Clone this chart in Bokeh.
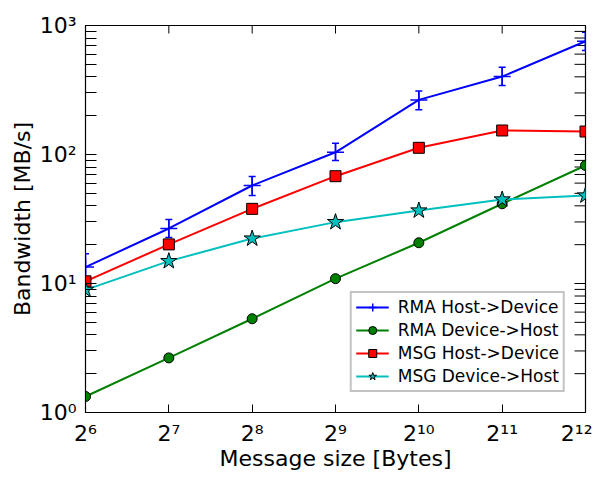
import math
from bokeh.plotting import figure
from bokeh.models import (FixedTicker, Legend, LegendItem, ColumnDataSource,
                          Whisker, TeeHead, Range1d)
from bokeh.embed import file_html
from bokeh.resources import INLINE

# ---- data ----
sizes = [64, 128, 256, 512, 1024, 2048, 4096]
rma_h2d = [13.4, 26.7, 57.5, 104, 265, 402, 755]
rma_h2d_lo = [11.2, 22.7, 48.1, 89.8, 222, 343, 640]
rma_h2d_hi = [17.0, 31.3, 67.5, 122, 310, 475, 887]
rma_d2h = [1.33, 2.65, 5.33, 10.9, 20.7, 41.5, 82.2]
msg_h2d = [10.4, 20.1, 37.9, 67.9, 112.7, 153.5, 150.7]
msg_d2h = [8.93, 14.9, 22.3, 29.9, 36.8, 44.8, 48.1]
x_tick_labels = ["2\u2076", "2\u2077", "2\u2078", "2\u2079", "2\u00b9\u2070", "2\u00b9\u00b9", "2\u00b9\u00b2"]
y_ticks = [1, 10, 100, 1000]
y_minor = [m * d for d in (1, 10, 100) for m in range(2, 10)]
y_tick_labels = ["10\u2070", "10\u00b9", "10\u00b2", "10\u00b3"]
series_names = ["RMA Host->Device", "RMA Device->Host", "MSG Host->Device", "MSG Device->Host"]

FONT = "DejaVu Sans"
X0, X1 = sizes[0], sizes[-1]
Y0, Y1 = y_ticks[0], y_ticks[-1]

p = figure(width=592, height=477, x_axis_type="log", y_axis_type="log",
           x_range=Range1d(X0, X1), y_range=Range1d(Y0, Y1),
           output_backend="svg", toolbar_location=None,
           min_border_left=85, min_border_right=7, min_border_top=25, min_border_bottom=65)
p.xgrid.visible = False
p.ygrid.visible = False
p.outline_line_color = "black"
p.outline_line_width = 1.2
p.background_fill_color = "white"
p.border_fill_color = "white"

src = ColumnDataSource(dict(x=sizes, a=rma_h2d, lo=rma_h2d_lo, hi=rma_h2d_hi,
                            b=rma_d2h, c=msg_h2d, d=msg_d2h))

# mirrored tick marks on top and right edges (clipped to the frame)
all_y = sorted(y_ticks + y_minor)
p.scatter(x=[X1] * len(all_y), y=all_y, marker="dash", size=22, line_color="black", line_width=1)
p.scatter(x=sizes, y=[Y1] * len(sizes), marker="dash", angle=math.pi / 2, size=16,
          line_color="black", line_width=1)

# RMA Host->Device
l1 = p.line("x", "a", source=src, line_color="blue", line_width=2)
w = Whisker(base="x", lower="lo", upper="hi", source=src, line_color="blue", line_width=1.5,
            upper_head=TeeHead(size=7, line_color="blue", line_width=1.5),
            lower_head=TeeHead(size=7, line_color="blue", line_width=1.5))
p.add_layout(w)
m1 = p.scatter("x", "a", source=src, marker="cross", size=17, line_color="blue", line_width=1.5)

# RMA Device->Host
l2 = p.line("x", "b", source=src, line_color="green", line_width=2)
m2 = p.scatter("x", "b", source=src, marker="circle", size=10, fill_color="green",
               line_color="black", line_width=1)

# MSG Host->Device
l3 = p.line("x", "c", source=src, line_color="red", line_width=2)
m3 = p.scatter("x", "c", source=src, marker="square", size=11, fill_color="red",
               line_color="black", line_width=1)

# MSG Device->Host
l4 = p.line("x", "d", source=src, line_color="#00bfbf", line_width=2)
m4 = p.scatter("x", "d", source=src, marker="star", size=17, fill_color="#00bfbf",
               line_color="black", line_width=1)

# ---- axes ----
xa = p.xaxis[0]
xa.ticker = FixedTicker(ticks=sizes)
xa.major_label_overrides = {s: lab for s, lab in zip(sizes, x_tick_labels)}
xa.axis_label = "Message size [Bytes]"

ya = p.yaxis[0]
ya.ticker = FixedTicker(ticks=y_ticks, minor_ticks=y_minor)
ya.major_label_overrides = {t: lab for t, lab in zip(y_ticks, y_tick_labels)}
ya.axis_label = "Bandwidth [MB/s]"

for ax in (xa, ya):
    ax.major_label_text_font = FONT
    ax.major_label_text_font_size = "22px"
    ax.major_label_text_color = "black"
    ax.axis_label_text_font = FONT
    ax.axis_label_text_font_size = "22px"
    ax.axis_label_text_font_style = "normal"
    ax.axis_label_text_color = "black"
    ax.axis_line_color = "black"
    ax.major_tick_line_color = "black"
    ax.major_tick_out = 0
    ax.minor_tick_out = 0
    ax.major_label_standoff = 9
    ax.axis_label_standoff = 2

xa.major_tick_in = 8
xa.minor_tick_line_color = None
xa.major_label_standoff = 8
xa.axis_label_standoff = -3
ya.major_tick_in = 11
ya.minor_tick_in = 11
ya.minor_tick_line_color = "black"

# ---- legend ----
legend = Legend(items=[
    LegendItem(label=series_names[0], renderers=[l1, m1]),
    LegendItem(label=series_names[1], renderers=[l2, m2]),
    LegendItem(label=series_names[2], renderers=[l3, m3]),
    LegendItem(label=series_names[3], renderers=[l4, m4]),
], location="bottom_right")
legend.label_text_font = FONT
legend.label_text_font_size = "17px"
legend.label_text_color = "black"
legend.glyph_width = 33
legend.glyph_height = 20
legend.label_height = 20
legend.spacing = 3
legend.padding = 4
legend.margin = 20
legend.label_standoff = 9
legend.border_line_color = "#888888"
legend.border_line_width = 2
legend.background_fill_color = "white"
legend.background_fill_alpha = 1
p.add_layout(legend)

open("out.html", "w").write(file_html(p, INLINE))
